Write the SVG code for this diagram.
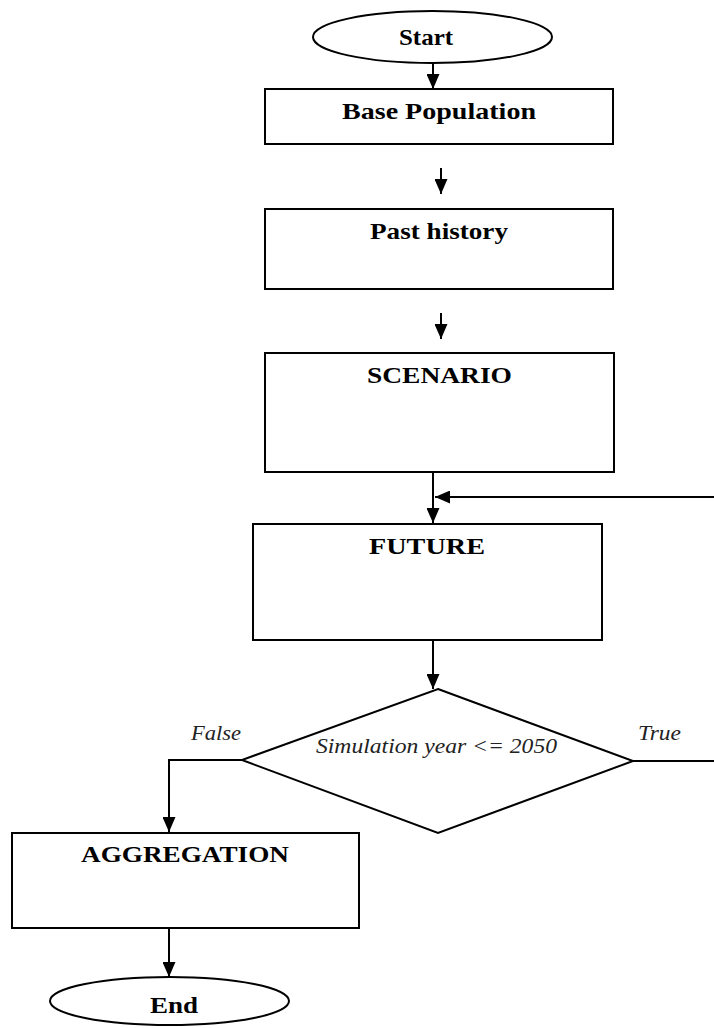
<svg xmlns="http://www.w3.org/2000/svg" width="714" height="1028" viewBox="0 0 714 1028">
<style>
.shape{fill:#fff;stroke:#000;stroke-width:2}
.conn{fill:none;stroke:#000;stroke-width:2}
.lbl{font-family:"Liberation Serif","Times New Roman",serif;font-weight:bold;font-size:24px;fill:#000}
.it{font-family:"Liberation Serif","Times New Roman",serif;font-style:italic;font-size:22px;fill:#222}
</style>
<defs>
<marker id="ah" markerUnits="userSpaceOnUse" markerWidth="15" markerHeight="13" refX="15" refY="6.5" orient="auto">
<path d="M0,0 L15,6.5 L0,13 z" fill="#000"/>
</marker>
</defs>
<rect width="714" height="1028" fill="#fff"/>
<g id="connectors">
<line class="conn" x1="433" y1="63" x2="433" y2="89" marker-end="url(#ah)"/>
<line class="conn" x1="441" y1="168" x2="441" y2="194" marker-end="url(#ah)"/>
<line class="conn" x1="441" y1="313" x2="441" y2="339" marker-end="url(#ah)"/>
<line class="conn" x1="433" y1="472" x2="433" y2="523" marker-end="url(#ah)"/>
<line class="conn" x1="714" y1="497" x2="435" y2="497" marker-end="url(#ah)"/>
<line class="conn" x1="433" y1="640" x2="433" y2="689" marker-end="url(#ah)"/>
<polyline class="conn" points="242,760 169,760 169,832" marker-end="url(#ah)"/>
<line class="conn" x1="625" y1="761" x2="714" y2="761"/>
<line class="conn" x1="169" y1="928" x2="169" y2="977" marker-end="url(#ah)"/>
</g>
<g id="start">
<ellipse class="shape" cx="432.5" cy="37" rx="119.5" ry="26"/>
<text class="lbl" x="426" y="45" text-anchor="middle" textLength="54" lengthAdjust="spacingAndGlyphs">Start</text>
</g>
<g id="base">
<rect class="shape" x="265" y="89" width="348" height="55"/>
<text class="lbl" x="439" y="119" text-anchor="middle" textLength="194" lengthAdjust="spacingAndGlyphs">Base Population</text>
</g>
<g id="past">
<rect class="shape" x="265" y="209" width="348" height="80"/>
<text class="lbl" x="439" y="239" text-anchor="middle" textLength="138" lengthAdjust="spacingAndGlyphs">Past history</text>
</g>
<g id="scenario">
<rect class="shape" x="265" y="353" width="349" height="119"/>
<text class="lbl" x="439.5" y="383" text-anchor="middle" textLength="145" lengthAdjust="spacingAndGlyphs">SCENARIO</text>
</g>
<g id="future">
<rect class="shape" x="253" y="524" width="349" height="116"/>
<text class="lbl" x="427" y="554" text-anchor="middle" textLength="116" lengthAdjust="spacingAndGlyphs">FUTURE</text>
</g>
<g id="decision">
<polygon class="shape" points="438,689 633,761 438,833 242,760"/>
<text class="it" x="316" y="753" textLength="241" lengthAdjust="spacingAndGlyphs">Simulation year &lt;= 2050</text>
<text class="it" x="191" y="740" textLength="50" lengthAdjust="spacingAndGlyphs">False</text>
<text class="it" x="638" y="740" textLength="43" lengthAdjust="spacingAndGlyphs">True</text>
</g>
<g id="aggregation">
<rect class="shape" x="12" y="833" width="347" height="95"/>
<text class="lbl" x="185" y="862" text-anchor="middle" textLength="208" lengthAdjust="spacingAndGlyphs">AGGREGATION</text>
</g>
<g id="end">
<ellipse class="shape" cx="169.5" cy="1001" rx="119.5" ry="24"/>
<text class="lbl" x="174" y="1013" text-anchor="middle" textLength="48" lengthAdjust="spacingAndGlyphs">End</text>
</g>
</svg>
